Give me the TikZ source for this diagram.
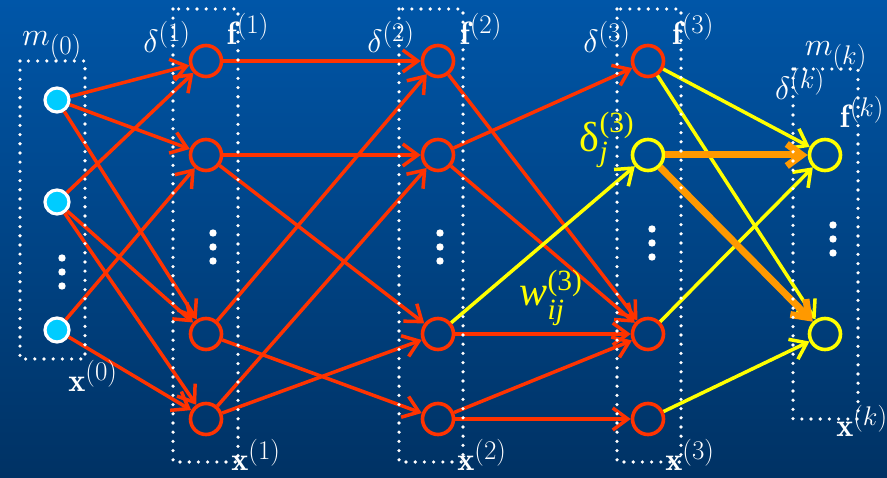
\documentclass[tikz,border=0pt]{standalone}
\usepackage{amsmath}
\usepackage{fontspec}
\newfontfamily\tms{Liberation Serif}
\definecolor{nnred}{RGB}{255,51,0}
\definecolor{nncyan}{RGB}{0,204,255}
\definecolor{nnyellow}{RGB}{255,255,0}
\definecolor{nnorange}{RGB}{255,153,0}
\definecolor{nntop}{RGB}{0,86,168}
\definecolor{nnbot}{RGB}{0,50,100}
\usetikzlibrary{arrows.meta}

\begin{document}
\begin{tikzpicture}[x=1pt, y=-1pt, every node/.style={inner sep=0pt},
  unit/.style={circle, draw=nnred, line width=3.6pt, minimum size=31pt},
  inunit/.style={circle, draw=white, fill=nncyan, line width=3.2pt, minimum size=24pt},
  wire/.style={-{Straight Barb[length=15pt, width=22pt]}, line width=3.5pt, nnred},
  hot/.style={wire, nnyellow},
  back/.style={wire, nnorange, line width=7pt},
  layerbox/.style={white, line width=3.6pt, line cap=round, dash pattern=on 0pt off 9.2pt},
  lbl/.style={white, scale=1.3, font=\fontsize{24.88}{28}\selectfont},
  ylbl/.style={nnyellow, font=\fontsize{42}{44}\selectfont\tms}]
% Background
\shade[top color=nntop, bottom color=nnbot] (0,0) rectangle (887,478);
\useasboundingbox (0,0) rectangle (887,478);
% Units
\foreach \r/\y in {1/100, 2/202, 3/330}
  \node[inunit] (n0\r) at (57,\y) {};
\foreach \l/\x in {1/206, 2/438} {
  \foreach \r/\y in {1/61, 2/155, 3/334, 4/419}
    \node[unit] (n\l\r) at (\x,\y) {};
}
\foreach \r/\y/\c in {1/61/nnred, 2/155/nnyellow, 3/334/nnred, 4/419/nnred}
  \node[unit, draw=\c] (n3\r) at (648,\y) {};
\foreach \r/\y in {1/155, 2/334}
  \node[unit, draw=nnyellow] (n4\r) at (825,\y) {};
% Forward weights
\foreach \a/\b in {01/11, 01/12, 01/13, 02/11, 02/13, 02/14, 03/12, 03/14,
                   11/21, 12/22, 12/23, 13/21, 13/24, 14/22, 14/23,
                   21/33, 22/31, 22/33, 23/33, 24/33, 24/34}
  \draw[wire] (n\a) -- (n\b);
\draw[hot] (n23) -- (n32);
\foreach \a/\b in {31/41, 31/42, 33/41, 34/42}
  \draw[hot] (n\a) -- (n\b);
\foreach \b in {41, 42}
  \draw[back] (n32) -- (n\b);
% Vertical ellipses
\foreach \x/\y in {62/258, 213/233, 440/233, 652/229, 833/225}
  \foreach \d in {0, 14, 28}
    \fill[white] (\x,\y+\d) circle (3.7pt);
% Layer boxes
\foreach \x/\y/\X/\Y in {20/61/85/359, 173/9/238/462, 399/9/463/462, 617/9/681/462, 793/69/858/419}
  \draw[layerbox] (\x,\y) rectangle (\X,\Y);
% Labels
\node[lbl] (m0) at (52,46) {$m_{(0)}$};
\foreach \l/\dx/\fx in {1/167/248, 2/391/481, 3/607/693} {
  \node[lbl] (d\l) at (\dx,37) {$\delta^{(\l)}$};
  \node[lbl] (f\l) at (\fx,29) {$\mathbf{f}^{(\l)}$};
}
\foreach \l/\x/\y in {0/93/376, 1/256/455, 2/482/455, 3/690/455}
  \node[lbl] (x\l) at (\x,\y) {$\mathbf{x}^{(\l)}$};
\node[lbl] (mk) at (836,56) {$m_{(k)}$};
\node[lbl] (dk) at (800,84) {$\delta^{(k)}$};
\node[lbl] (fk) at (862,112) {$\mathbf{f}^{(k)}$};
\node[lbl] (xk) at (862,421) {$\mathbf{x}^{(k)}$};
\node[ylbl] (dj) at (607,140) {$\text{\tms δ}_{\text{\tms\itshape j}}^{\text{\tms (3)}}$};
\node[ylbl] (wij) at (551,298) {$\text{\tms\itshape w}_{\text{\tms\itshape ij}}^{\text{\tms (3)}}$};
\end{tikzpicture}
\end{document}
